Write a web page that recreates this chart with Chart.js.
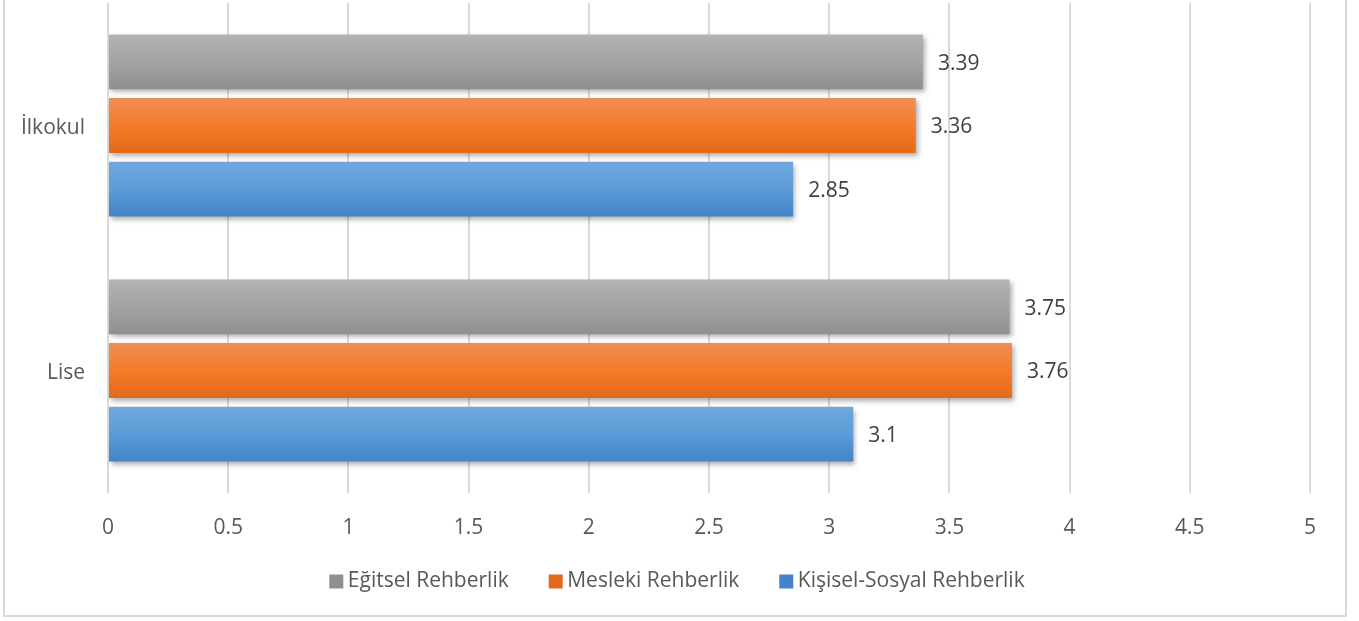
<!DOCTYPE html>
<html>
<head>
<meta charset="utf-8">
<script src="https://cdn.jsdelivr.net/npm/chart.js@4/dist/chart.umd.min.js"></script>
<style>
  html, body { margin: 0; padding: 0; background: #ffffff; overflow: hidden; }
  #wrap { position: absolute; left: 0; top: 0; width: 1359px; height: 621px; }
  #frame { position: absolute; left: 3px; top: -10px; width: 1344px; height: 627px; box-sizing: border-box;
           border: 2px solid #d9d9d9; pointer-events: none; }
</style>
</head>
<body>
<div id="wrap"><canvas id="c"></canvas></div>
<div id="frame"></div>
<script>
const categories = ['İlkokul', 'Lise'];
const seriesNames = ['Eğitsel Rehberlik', 'Mesleki Rehberlik', 'Kişisel-Sosyal Rehberlik'];
const egitsel = [3.39, 3.75];
const mesleki = [3.36, 3.76];
const kisisel = [2.85, 3.1];
const xTickValues = [0, 0.5, 1, 1.5, 2, 2.5, 3, 3.5, 4, 4.5, 5];
const xTickLabels = ['0', '0.5', '1', '1.5', '2', '2.5', '3', '3.5', '4', '4.5', '5'];

const palettes = [
  { solid: '#a5a5a5', stops: ['#b3b3b3', '#a3a3a3', '#8f8f8f'] },
  { solid: '#ed7d31', stops: ['#f08d55', '#f47c2a', '#e2691b'] },
  { solid: '#5b9bd5', stops: ['#70a8de', '#5c9cd8', '#4383c7'] }
];

function gradientFill(p) {
  return function (ctx) {
    const el = ctx.element;
    if (!el || el.y === undefined || !el.height || isNaN(el.y)) return p.solid;
    const c = ctx.chart.ctx;
    const top = el.y - el.height / 2, bottom = el.y + el.height / 2;
    const g = c.createLinearGradient(0, top, 0, bottom);
    g.addColorStop(0, p.stops[0]);
    g.addColorStop(0.5, p.stops[1]);
    g.addColorStop(1, p.stops[2]);
    return g;
  };
}

const FONT = "'Open Sans', 'Noto Sans', sans-serif";

const shadowPlugin = {
  id: 'barShadow',
  beforeDatasetsDraw(chart) {
    const c = chart.ctx;
    c.save();
    c.shadowColor = 'rgba(0,0,0,0.32)';
    c.shadowBlur = 5;
    c.shadowOffsetX = 2;
    c.shadowOffsetY = 3;
  },
  afterDatasetsDraw(chart) {
    chart.ctx.restore();
  }
};

const valueLabels = {
  id: 'valueLabels',
  afterDraw(chart) {
    const c = chart.ctx;
    c.save();
    c.font = '21px ' + FONT;
    c.fillStyle = '#404040';
    c.textAlign = 'left';
    c.textBaseline = 'middle';
    chart.data.datasets.forEach((ds, di) => {
      const meta = chart.getDatasetMeta(di);
      meta.data.forEach((el, i) => {
        c.fillText(String(ds.data[i]), el.x + 15, el.y + 2);
      });
    });
    c.restore();
  }
};

const legendPlace = {
  id: 'legendPlace',
  afterLayout(chart) {
    const lg = chart.legend;
    if (!lg) return;
    lg.top -= 15; lg.bottom -= 15;
    lg.left += 25; lg.right += 25;
  }
};

const seriesData = [egitsel, mesleki, kisisel];

const chart = new Chart(document.getElementById('c'), {
  type: 'bar',
  data: {
    labels: categories,
    datasets: seriesNames.map((name, i) => ({
      label: name,
      data: seriesData[i],
      backgroundColor: gradientFill(palettes[i]),
      borderWidth: 0,
      categoryPercentage: 0.78,
      barPercentage: 0.86
    }))
  },
  options: {
    indexAxis: 'y',
    responsive: true,
    maintainAspectRatio: false,
    animation: false,
    events: [],
    layout: { padding: { top: 3, right: 49, bottom: 4, left: 0 } },
    scales: {
      x: {
        min: 0,
        max: 5,
        ticks: {
          stepSize: 0.5,
          padding: 22,
          autoSkip: false,
          maxRotation: 0,
          color: '#595959',
          font: { family: FONT, size: 21 },
          callback: (v) => {
            const k = xTickValues.findIndex(t => Math.abs(t - v) < 1e-9);
            return k >= 0 ? xTickLabels[k] : '';
          }
        },
        grid: { color: '#dadada', lineWidth: 2, drawTicks: false },
        border: { display: false },
        afterFit(scale) {
          scale.height = 47;
          scale.paddingLeft = 0;
          scale.paddingRight = 0;
        }
      },
      y: {
        ticks: {
          padding: 23,
          labelOffset: 3,
          color: '#595959',
          font: { family: FONT, size: 21 }
        },
        grid: { display: false, drawTicks: false },
        border: { display: false },
        afterFit(scale) {
          scale.width = 108;
          scale.paddingTop = 0;
          scale.paddingBottom = 0;
        }
      }
    },
    plugins: {
      legend: {
        position: 'bottom',
        labels: {
          usePointStyle: true,
          pointStyle: 'rect',
          boxWidth: 2,
          boxHeight: 14,
          padding: 46,
          color: '#595959',
          font: { family: FONT, size: 21 }
        }
      },
      tooltip: { enabled: false }
    }
  },
  plugins: [legendPlace, shadowPlugin, valueLabels]
});
chart.update('none');
</script>
</body>
</html>
